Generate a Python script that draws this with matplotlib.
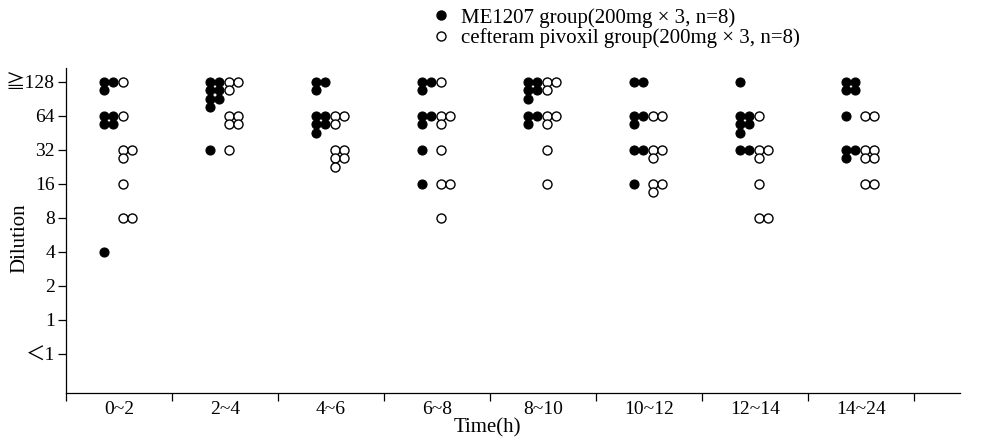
import numpy as np
import matplotlib
matplotlib.use('Agg')
import matplotlib.pyplot as plt
from matplotlib.lines import Line2D

plt.rcParams['font.family'] = ['Liberation Serif', 'DejaVu Serif', 'Noto Sans CJK JP']

time_labels = ['0~2', '2~4', '4~6', '6~8', '8~10', '10~12', '12~14', '14~24']
dilution_labels = ['＜1', '1', '2', '4', '8', '16', '32', '64', '≧128']

# one value per subject; ≧128 stored as 128, <1 as 0.5
me1207 = [
    [128, 128, 128, 64, 64, 64, 64, 4],
    [128, 128, 128, 128, 128, 128, 128, 32],
    [128, 128, 128, 64, 64, 64, 64, 64],
    [128, 128, 128, 64, 64, 64, 32, 16],
    [128, 128, 128, 128, 128, 64, 64, 64],
    [128, 128, 64, 64, 64, 32, 32, 16],
    [128, 64, 64, 64, 64, 64, 32, 32],
    [128, 128, 128, 128, 64, 32, 32, 32],
]
cefteram = [
    [128, 64, 32, 32, 32, 16, 8, 8],
    [128, 128, 128, 64, 64, 64, 64, 32],
    [64, 64, 64, 32, 32, 32, 32, 32],
    [128, 64, 64, 64, 32, 16, 16, 8],
    [128, 128, 128, 64, 64, 64, 32, 16],
    [64, 64, 32, 32, 32, 16, 16, 16],
    [64, 32, 32, 32, 16, 8, 8],
    [64, 64, 32, 32, 32, 32, 16, 16],
]

COL_STEP = 0.088   # horizontal step between neighbouring dots (x units)
ROW_STEP = 0.25    # vertical step when a level holds more than two dots
ME_OFF = -0.146
CEF_OFF = 0.033


def stack(values, x0):
    """Place dots level by level, two per row, rows going downwards."""
    xs, ys = [], []
    for v in sorted(set(values), reverse=True):
        k = values.count(v)
        level = np.log2(v) + 1
        for j in range(k):
            xs.append(x0 + (j % 2) * COL_STEP)
            ys.append(level - (j // 2) * ROW_STEP)
    return xs, ys


fig = plt.figure(figsize=(9.85, 4.4), dpi=100)
ax = fig.add_axes([66 / 985, 47 / 440, 894 / 985, 325 / 440])

for i in range(len(time_labels)):
    x, y = stack(me1207[i], i + ME_OFF)
    ax.scatter(x, y, s=6.5 ** 2, c='black', edgecolors='black', linewidths=0.8, zorder=3)
    x, y = stack(cefteram[i], i + CEF_OFF)
    ax.scatter(x, y, s=6.5 ** 2, c='white', edgecolors='black', linewidths=1.0, zorder=3)

ax.set_xlim(-0.5, 7.93)
ax.set_ylim(-1.15, 8.4)
for side in ['top', 'right']:
    ax.spines[side].set_visible(False)
for side in ['left', 'bottom']:
    ax.spines[side].set_linewidth(0.9)

ax.set_xticks(np.arange(-0.5, 8, 1))
ax.set_xticklabels([])
ax.set_xticks(np.arange(len(time_labels)), labels=time_labels, minor=True)
ax.tick_params(axis='x', which='minor', length=0, pad=6, labelsize=14)
ax.tick_params(axis='x', which='major', length=6, width=0.9)
ax.set_yticks(np.arange(len(dilution_labels)), labels=dilution_labels)
ax.tick_params(axis='y', length=6, width=0.9, pad=2, labelsize=14)

ax.set_xlabel('Time(h)', fontsize=15, labelpad=0)
ax.xaxis.set_label_coords(0.471, -0.078)
fig.text(20 / 985, 1 - 238 / 440, 'Dilution', rotation=90, fontsize=15,
         ha='center', va='center')

handles = [
    Line2D([], [], ls='none', marker='o', ms=6.5, mfc='black', mec='black'),
    Line2D([], [], ls='none', marker='o', ms=6.5, mfc='white', mec='black', mew=1.0),
]
labels = ['ME1207 group(200mg × 3, n=8)', 'cefteram pivoxil group(200mg × 3, n=8)']
fig.legend(handles, labels, loc='upper left', bbox_to_anchor=(433 / 985, 0.982),
           frameon=False, fontsize=15, handlelength=0.8, handletextpad=0.55,
           labelspacing=0.02, borderaxespad=0, borderpad=0)

fig.savefig('out.png', dpi=100, facecolor='white')
